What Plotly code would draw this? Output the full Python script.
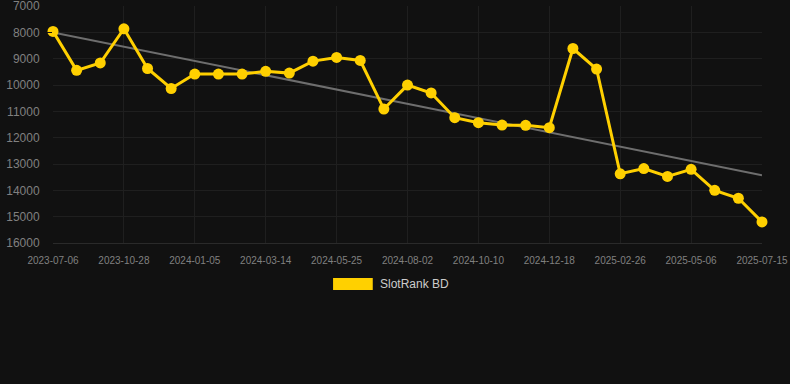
import numpy as np
import plotly.graph_objects as go

dates = ["2023-07-06", "2023-08-13", "2023-09-20", "2023-10-28", "2023-11-20", "2023-12-13",
         "2024-01-05", "2024-01-28", "2024-02-20", "2024-03-14", "2024-04-07", "2024-05-01",
         "2024-05-25", "2024-06-17", "2024-07-10", "2024-08-02", "2024-08-25", "2024-09-17",
         "2024-10-10", "2024-11-02", "2024-11-25", "2024-12-18", "2025-01-10", "2025-02-02",
         "2025-02-26", "2025-03-21", "2025-04-13", "2025-05-06", "2025-05-29", "2025-06-21",
         "2025-07-15"]
ranks = [7960, 9440, 9160, 7860, 9370, 10130, 9580, 9580, 9580, 9475, 9545, 9090,
         8950, 9065, 10910, 10000, 10300, 11240, 11430, 11520, 11530, 11620, 8610, 9390,
         13370, 13170, 13470, 13200, 14000, 14300, 15200]
tick_labels = ["2023-07-06", "2023-10-28", "2024-01-05", "2024-03-14", "2024-05-25",
               "2024-08-02", "2024-10-10", "2024-12-18", "2025-02-26", "2025-05-06", "2025-07-15"]
y_ticks = [7000, 8000, 9000, 10000, 11000, 12000, 13000, 14000, 15000, 16000]
series_name = "SlotRank BD"

idx = np.arange(len(ranks))
slope, intercept = np.polyfit(idx, ranks, 1)
trend = slope * idx + intercept

fig = go.Figure()
fig.add_trace(go.Scatter(x=dates, y=trend, mode="lines",
                         line=dict(color="#6e6e6e", width=2), showlegend=False, hoverinfo="skip"))
fig.add_trace(go.Scatter(x=dates, y=ranks, mode="lines+markers", name=series_name,
                         line=dict(color="#ffd000", width=3),
                         marker=dict(color="#ffd000", size=11), showlegend=False, cliponaxis=False))

fig.add_shape(type="rect", xref="paper", yref="paper", x0=0.395, x1=0.451, y0=-0.148, y1=-0.198,
              fillcolor="#ffd000", line=dict(width=0))
fig.add_annotation(xref="paper", yref="paper", x=0.459, y=-0.173, xanchor="left", yanchor="middle",
                   text=series_name, showarrow=False, font=dict(size=12, color="#cccccc"))

fig.update_layout(
    width=790, height=384,
    margin=dict(l=53, r=28, t=6, b=141, autoexpand=False),
    paper_bgcolor="#111111", plot_bgcolor="#111111",
    font=dict(family="Liberation Sans, Arial, sans-serif", color="#808080"),
    showlegend=False,
)
fig.update_xaxes(type="category", range=[0, len(dates) - 1], tickmode="array",
                 tickvals=tick_labels, ticktext=tick_labels, showgrid=True, gridcolor="#1f1f1f",
                 gridwidth=1, tickfont=dict(size=10, color="#808080"), ticks="outside",
                 ticklen=8, tickcolor="#111111", showline=True, linecolor="#2a2a2a",
                 zeroline=False, automargin=False, ticklabeloverflow="allow")
fig.update_yaxes(range=[16000, 6995], tickmode="array", tickvals=y_ticks,
                 ticktext=[str(v) for v in y_ticks], showgrid=True, gridcolor="#1f1f1f",
                 tickfont=dict(size=12, color="#808080"), ticks="outside", ticklen=10,
                 tickcolor="#111111", zeroline=False, automargin=False, ticklabeloverflow="allow")

fig.write_html("out.html", config={"displayModeBar": False},
               post_script="document.body.style.margin='0';document.body.style.background='#111111';")
